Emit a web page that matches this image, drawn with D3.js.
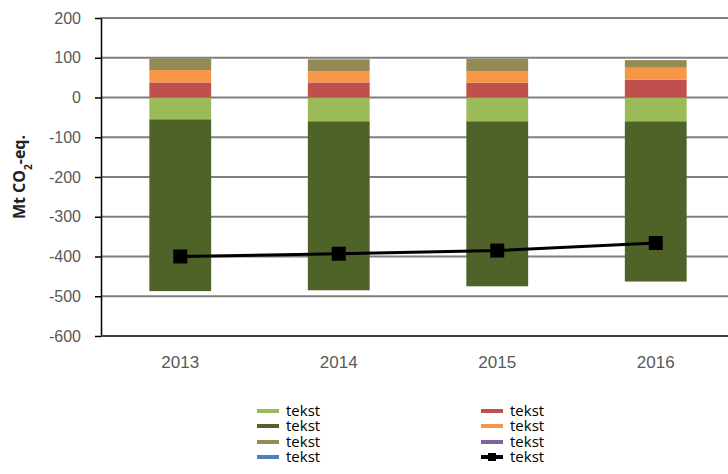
<!doctype html>
<html>
<head>
<meta charset="utf-8">
<title>Mt CO2-eq.</title>
<style>
  body { margin: 0; background: #fff; }
  svg { display: block; font-family: "Open Sans", sans-serif; }
</style>
</head>
<body>
<div id="here"></div>
<script src="https://d3js.org/d3.v7.min.js"></script>
<script>
// data
var years = ["2013", "2014", "2015", "2016"];
var lightGreen = [-55, -60, -60, -60];
var darkGreen = [-432, -425, -415, -403];
var red = [38, 38, 37, 45];
var orange = [31, 28, 29, 30];
var tan = [29, 30, 31, 19];
var blue = [0, 0, 0, 0];
var purple = [0, 0, 0, 0];
var netLine = [-400, -393, -385, -366];
var yTicks = [200, 100, 0, -100, -200, -300, -400, -500, -600];

var series = [
  {key: "lg", values: lightGreen, color: "#9bbb59"},
  {key: "dg", values: darkGreen, color: "#4f6228"},
  {key: "red", values: red, color: "#c0504d"},
  {key: "or", values: orange, color: "#f79646"},
  {key: "tan", values: tan, color: "#948a54"},
  {key: "blue", values: blue, color: "#4f81bd"},
  {key: "pur", values: purple, color: "#8064a2"}
];

var w = 728, h = 474;

var svg = d3.select("#here").append("svg")
  .attr("width", w)
  .attr("height", h);

var x = d3.scaleBand().domain(years).range([101, 735]);
var y = d3.scaleLinear().domain([-600, 200]).range([336, 18]);
var barW = x.bandwidth() * 0.39;

// gridlines
svg.append("g").selectAll("line")
  .data(yTicks.slice(0, -1))
  .enter().append("line")
  .attr("x1", 101).attr("x2", w)
  .attr("y1", function(d) { return y(d); })
  .attr("y2", function(d) { return y(d); })
  .attr("stroke", "#7f7f7f")
  .attr("stroke-width", 2);

// stacked bars
var table = years.map(function(yr, i) {
  var row = {year: yr};
  series.forEach(function(s) { row[s.key] = s.values[i]; });
  return row;
});
var stack = d3.stack()
  .keys(series.map(function(s) { return s.key; }))
  .offset(d3.stackOffsetDiverging);

svg.append("g").selectAll("g")
  .data(stack(table))
  .enter().append("g")
  .attr("fill", function(d, i) { return series[i].color; })
  .selectAll("rect")
  .data(function(d) { return d; })
  .enter().append("rect")
  .attr("x", function(d) { return x(d.data.year) + (x.bandwidth() - barW) / 2; })
  .attr("width", barW)
  .attr("y", function(d) { return y(Math.max(d[0], d[1])); })
  .attr("height", function(d) { return Math.abs(y(d[0]) - y(d[1])); });

// y axis (hyphen minus like the original)
var yAxis = svg.append("g")
  .attr("transform", "translate(101,0)")
  .call(d3.axisLeft(y).tickValues(yTicks).tickSize(6).tickSizeOuter(0).tickPadding(14)
    .tickFormat(function(d) { return String(d); }));
yAxis.select(".domain").attr("stroke", "#000").attr("stroke-width", 1.5);
yAxis.selectAll(".tick line").attr("stroke", "#000").attr("stroke-width", 1.5);
yAxis.selectAll(".tick text").attr("fill", "#595959").style("font-size", "16px");

// x axis at bottom
var xAxis = svg.append("g")
  .attr("transform", "translate(0," + y(-600) + ")")
  .call(d3.axisBottom(x).tickSize(0).tickPadding(20));
xAxis.select(".domain").attr("stroke", "#404040").attr("stroke-width", 2)
  .attr("d", "M101,0H" + w);
xAxis.selectAll(".tick text").attr("fill", "#595959").style("font-size", "17px");

// y title
svg.append("text")
  .attr("transform", "translate(25,177) rotate(-90)")
  .attr("text-anchor", "middle")
  .style("font-size", "16px")
  .style("font-weight", "bold")
  .attr("fill", "#222")
  .html('Mt CO<tspan baseline-shift="sub" font-size="10px">2</tspan>-eq.');

// line with square markers
var line = d3.line()
  .x(function(d, i) { return x(years[i]) + x.bandwidth() / 2; })
  .y(function(d) { return y(d); });
svg.append("path")
  .datum(netLine)
  .attr("d", line)
  .attr("fill", "none")
  .attr("stroke", "#000")
  .attr("stroke-width", 3);
svg.append("g").selectAll("rect")
  .data(netLine)
  .enter().append("rect")
  .attr("x", function(d, i) { return x(years[i]) + x.bandwidth() / 2 - 7; })
  .attr("y", function(d) { return y(d) - 7; })
  .attr("width", 14).attr("height", 14)
  .attr("fill", "#000");

// legend
var legendItems = [
  {color: "#9bbb59", col: 0, row: 0},
  {color: "#4f6228", col: 0, row: 1},
  {color: "#948a54", col: 0, row: 2},
  {color: "#4f81bd", col: 0, row: 3},
  {color: "#c0504d", col: 1, row: 0},
  {color: "#f79646", col: 1, row: 1},
  {color: "#8064a2", col: 1, row: 2},
  {color: "#000", col: 1, row: 3, marker: true}
];
var colX = [257, 481], rowY = [411, 426, 442, 457];
var lg = svg.append("g").selectAll("g")
  .data(legendItems)
  .enter().append("g")
  .attr("transform", function(d) { return "translate(" + colX[d.col] + "," + rowY[d.row] + ")"; });
lg.append("line")
  .attr("x1", 0).attr("x2", 22)
  .attr("stroke", function(d) { return d.color; })
  .attr("stroke-width", 4);
lg.filter(function(d) { return d.marker; }).append("rect")
  .attr("x", 7).attr("y", -4).attr("width", 8).attr("height", 8)
  .attr("fill", "#000");
lg.append("text")
  .attr("x", 29)
  .attr("dy", "0.35em")
  .style("font-size", "15px")
  .attr("fill", "#000")
  .text("tekst");
</script>
</body>
</html>
